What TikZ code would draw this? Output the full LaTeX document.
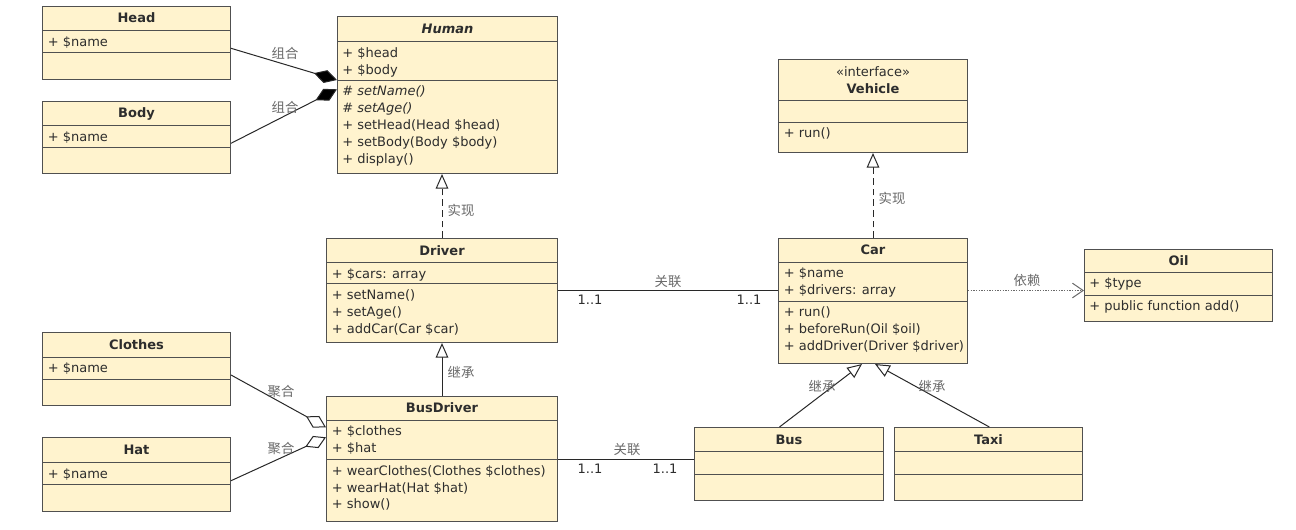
\documentclass[tikz,border=0pt]{standalone}
\usepackage{fontspec}
\setmainfont{DejaVu Sans}
\newfontfamily\cjk{Noto Sans CJK SC}
\usetikzlibrary{arrows.meta,fit,calc}
\definecolor{boxfill}{RGB}{255,243,206}
\definecolor{boxline}{RGB}{80,80,80}
\definecolor{txt}{RGB}{45,45,45}
\definecolor{lblc}{RGB}{105,105,105}
\definecolor{wire}{RGB}{40,40,40}
\begin{document}
\begin{tikzpicture}[x=0.75pt,y=-0.75pt,
  cls/.style={draw=boxline, fill=boxfill, line width=0.8pt, inner sep=0pt},
  cline/.style={draw=boxline, line width=0.8pt},
  ttl/.style={font=\fontsize{9.75}{11}\selectfont\bfseries, text=txt, inner sep=0pt, text height=7.5pt, text depth=2pt},
  ster/.style={font=\fontsize{9.75}{11}\selectfont, text=txt, inner sep=0pt, text height=7.5pt, text depth=2pt},
  mem/.style={font=\fontsize{9.75}{11}\selectfont, text=txt, anchor=west, inner sep=0pt, text height=7.5pt, text depth=2pt},
  lbl/.style={font=\cjk\fontsize{10}{11}\selectfont, text=lblc, inner sep=0pt},
  mult/.style={font=\fontsize{9.75}{11}\selectfont, text=txt, inner sep=0pt},
  conn/.style={draw=wire, line width=0.75pt},
  comp/.style={conn, -{Diamond[length=18pt, width=10pt, fill=black]}},
  aggr/.style={conn, -{Diamond[length=17pt, width=10pt, fill=white]}},
  real/.style={conn, dash pattern=on 5pt off 3pt, -{Triangle[length=11pt, width=9.5pt, fill=white]}},
  gen/.style={conn, -{Triangle[length=11pt, width=9.5pt, fill=white]}},
  dep/.style={draw=lblc, line width=0.75pt, dash pattern=on 1pt off 1pt, -{Straight Barb[length=8pt, width=11pt]}}
]
\fill[white] (0,0) rectangle (1296,529);
\useasboundingbox (0,0) rectangle (1296,529);

% ---------- Head
\node[cls, fit={(42.5,6.5) (230.5,79.5)}] (head) {};
\draw[cline] (42.5,30.5) -- (230.5,30.5) (42.5,52.5) -- (230.5,52.5);
\node[ttl] (headT) at (136.5,19) {Head};
\node[mem] (headA1) at (47.5,42.5) {+ \$name};

% ---------- Body
\node[cls, fit={(42.5,101.5) (230.5,173.5)}] (body) {};
\draw[cline] (42.5,125.5) -- (230.5,125.5) (42.5,147.5) -- (230.5,147.5);
\node[ttl] (bodyT) at (136.5,114) {Body};
\node[mem] (bodyA1) at (47.5,137.5) {+ \$name};

% ---------- Human
\node[cls, fit={(337.5,16.5) (557.5,173.5)}] (human) {};
\draw[cline] (337.5,41.5) -- (557.5,41.5) (337.5,80.5) -- (557.5,80.5);
\node[ttl, font=\fontsize{9.75}{11}\selectfont\bfseries\itshape] (humanT) at (447.5,30) {Human};
\node[mem] (humanA1) at (342,53.5) {+ \$head};
\node[mem] (humanA2) at (342,70.5) {+ \$body};
\node[mem] (humanO1) at (342,92) {\# \textit{setName()}};
\node[mem] (humanO2) at (342,109) {\# \textit{setAge()}};
\node[mem] (humanO3) at (342,126) {+ setHead(Head \$head)};
\node[mem] (humanO4) at (342,143) {+ setBody(Body \$body)};
\node[mem] (humanO5) at (342,160) {+ display()};

% ---------- Vehicle
\node[cls, fit={(778.5,59.5) (967.5,152.5)}] (vehicle) {};
\draw[cline] (778.5,100.5) -- (967.5,100.5) (778.5,122.5) -- (967.5,122.5);
\node[ster] (vehicleS) at (873,72.5) {«interface»};
\node[ttl] (vehicleT) at (873,89.5) {Vehicle};
\node[mem] (vehicleO1) at (783.5,134.3) {+ run()};

% ---------- Driver
\node[cls, fit={(326.5,238.5) (557.5,342.5)}] (driver) {};
\draw[cline] (326.5,262.5) -- (557.5,262.5) (326.5,283.5) -- (557.5,283.5);
\node[ttl] (driverT) at (442,251.5) {Driver};
\node[mem] (driverA1) at (331.5,274.5) {+ \$cars: array};
\node[mem] (driverO1) at (331.5,296) {+ setName()};
\node[mem] (driverO2) at (331.5,312.8) {+ setAge()};
\node[mem] (driverO3) at (331.5,329.6) {+ addCar(Car \$car)};

% ---------- Car
\node[cls, fit={(778.5,238.5) (967.5,363.5)}] (car) {};
\draw[cline] (778.5,262.5) -- (967.5,262.5) (778.5,301.5) -- (967.5,301.5);
\node[ttl] (carT) at (873,251.3) {Car};
\node[mem] (carA1) at (783.5,274) {+ \$name};
\node[mem] (carA2) at (783.5,290.8) {+ \$drivers: array};
\node[mem] (carO1) at (783.5,313) {+ run()};
\node[mem] (carO2) at (783.5,329.7) {+ beforeRun(Oil \$oil)};
\node[mem] (carO3) at (783.5,346.4) {+ addDriver(Driver \$driver)};

% ---------- Oil
\node[cls, fit={(1084.5,249.5) (1272.5,321.5)}] (oil) {};
\draw[cline] (1084.5,272.5) -- (1272.5,272.5) (1084.5,295.5) -- (1272.5,295.5);
\node[ttl] (oilT) at (1178.5,262) {Oil};
\node[mem] (oilA1) at (1089,284.3) {+ \$type};
\node[mem] (oilO1) at (1089,307) {+ public function add()};

% ---------- Clothes
\node[cls, fit={(42.5,332.5) (230.5,405.5)}] (clothes) {};
\draw[cline] (42.5,357.5) -- (230.5,357.5) (42.5,379.5) -- (230.5,379.5);
\node[ttl] (clothesT) at (136.5,346) {Clothes};
\node[mem] (clothesA1) at (47.5,369) {+ \$name};

% ---------- Hat
\node[cls, fit={(42.5,437.5) (230.5,511.5)}] (hat) {};
\draw[cline] (42.5,462.5) -- (230.5,462.5) (42.5,484.5) -- (230.5,484.5);
\node[ttl] (hatT) at (136.5,451) {Hat};
\node[mem] (hatA1) at (47.5,474.5) {+ \$name};

% ---------- BusDriver
\node[cls, fit={(326.5,396.5) (557.5,521.5)}] (busdriver) {};
\draw[cline] (326.5,420.5) -- (557.5,420.5) (326.5,459.5) -- (557.5,459.5);
\node[ttl] (busdriverT) at (442,409) {BusDriver};
\node[mem] (busdriverA1) at (331.5,432) {+ \$clothes};
\node[mem] (busdriverA2) at (331.5,448.6) {+ \$hat};
\node[mem] (busdriverO1) at (331.5,471.7) {+ wearClothes(Clothes \$clothes)};
\node[mem] (busdriverO2) at (331.5,488.4) {+ wearHat(Hat \$hat)};
\node[mem] (busdriverO3) at (331.5,505) {+ show()};

% ---------- Bus
\node[cls, fit={(694.5,427.5) (883.5,500.5)}] (bus) {};
\draw[cline] (694.5,451.5) -- (883.5,451.5) (694.5,474.5) -- (883.5,474.5);
\node[ttl] (busT) at (789,441) {Bus};

% ---------- Taxi
\node[cls, fit={(894.5,427.5) (1082.5,500.5)}] (taxi) {};
\draw[cline] (894.5,451.5) -- (1082.5,451.5) (894.5,474.5) -- (1082.5,474.5);
\node[ttl] (taxiT) at (988.5,441) {Taxi};

% ---------- connectors
\draw[comp] ($(head.east)+(0,5.3)$) -- ($(human.west)+(0,-15)$);
\draw[comp] ($(body.east)+(0,5.8)$) -- ($(human.west)+(0,-5.7)$);
\node[lbl] (l1) at (285,53.5) {组合};
\node[lbl] (l2) at (285,107.5) {组合};

\draw[real] (driver.north) -- (driver.north |- human.south);
\node[lbl] (l3) at (461,210) {实现};

\draw[gen] (busdriver.north) -- (driver.south);
\node[lbl] (l4) at (461,372.7) {继承};

\draw[aggr] ($(clothes.east)+(0,6)$) -- ($(busdriver.west)+(0,-31.7)$);
\draw[aggr] ($(hat.east)+(0,6.2)$) -- ($(busdriver.west)+(0,-21.7)$);
\node[lbl] (l5) at (281,391.7) {聚合};
\node[lbl] (l6) at (281,448.3) {聚合};

\draw[conn] (driver.east) -- (driver.east -| car.west);
\node[lbl] (l7) at (668,281.5) {关联};
\node[mult] (m1) at (590,300) {1..1};
\node[mult] (m2) at (749,300) {1..1};

\draw[conn] (busdriver.east) -- (busdriver.east -| bus.west);
\node[lbl] (l8) at (627,449.5) {关联};
\node[mult] (m3) at (590,468.3) {1..1};
\node[mult] (m4) at (665,468.3) {1..1};

\draw[real] (car.north) -- (car.north |- vehicle.south);
\node[lbl] (l9) at (892,198) {实现};

\coordinate (depS) at ($(car.east)+(0,-10.5)$);
\draw[dep] (depS) -- (depS -| oil.west);
\node[lbl] (l10) at (1027,280) {依赖};

\draw[gen] ($(bus.north)+(-9.5,0)$) -- ($(car.south)+(-11,0)$);
\draw[gen] ($(taxi.north)+(0.8,0)$) -- ($(car.south)+(2,0)$);
\node[lbl] (l11) at (822,386.7) {继承};
\node[lbl] (l12) at (932,386.7) {继承};
\end{tikzpicture}
\end{document}
